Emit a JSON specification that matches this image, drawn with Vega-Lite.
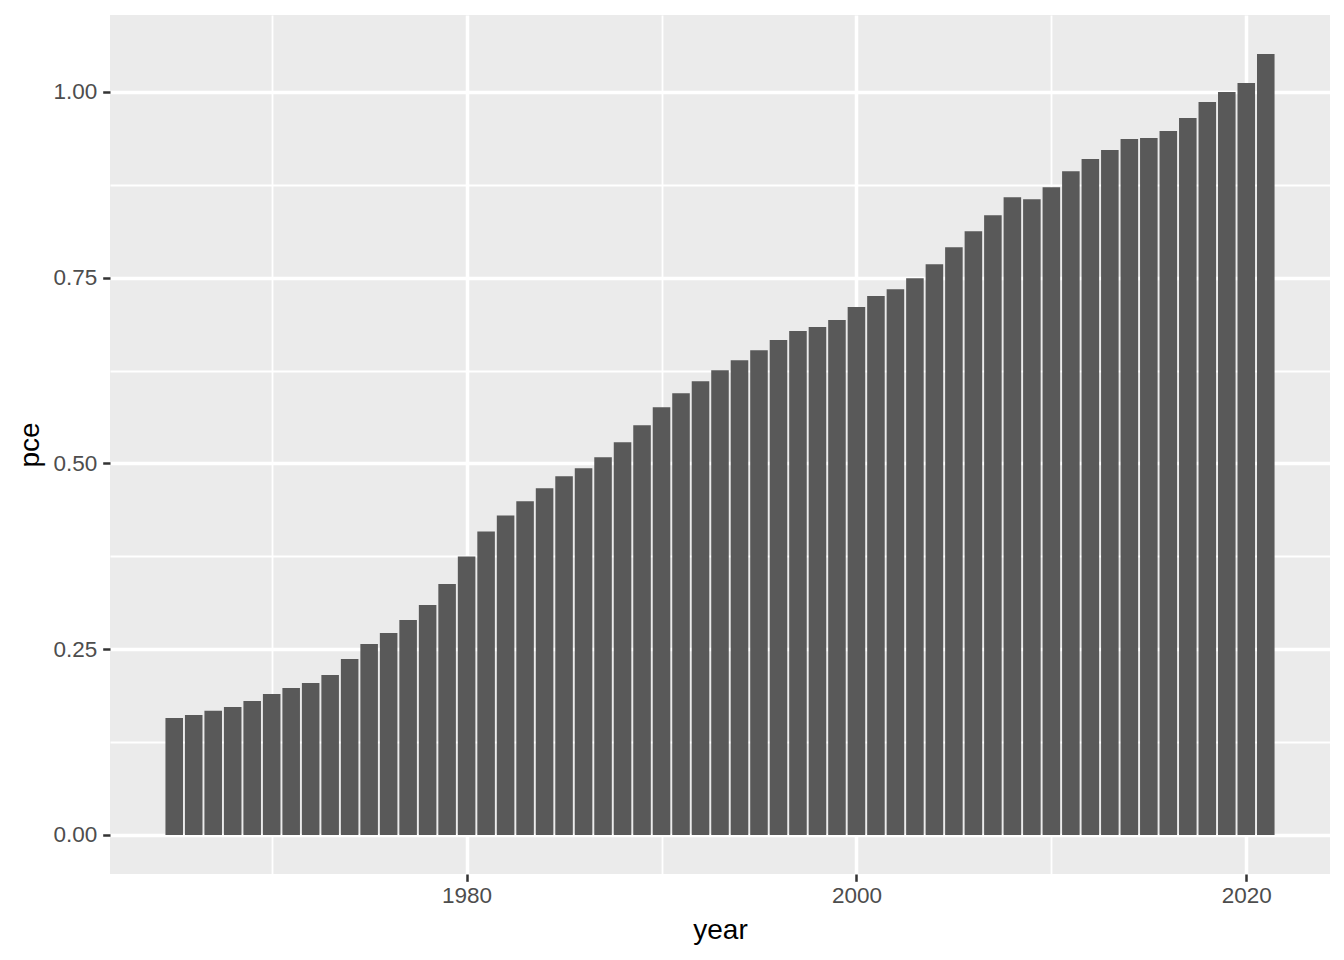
{
  "$schema": "https://vega.github.io/schema/vega-lite/v6.json",
  "width": 1220,
  "height": 859,
  "autosize": {"type": "none"},
  "padding": {"left": 110, "top": 15, "right": 14, "bottom": 86},
  "background": "white",
  "config": {
    "view": {"fill": "#EBEBEB", "stroke": null},
    "axis": {
      "domain": false,
      "gridColor": "#FFFFFF",
      "gridWidth": 3.5,
      "tickColor": "#333333",
      "tickWidth": 2.5,
      "tickSize": 7.3,
      "labelFont": "Liberation Sans",
      "labelFontSize": 22.5,
      "labelColor": "#4D4D4D",
      "titleFont": "Liberation Sans",
      "titleFontSize": 28,
      "titleFontWeight": "normal",
      "titleColor": "#000000"
    }
  },
  "data": {
    "values": [
      {"year": 1965, "pce": 0.1575}, {"year": 1966, "pce": 0.1615}, {"year": 1967, "pce": 0.167},
      {"year": 1968, "pce": 0.1723}, {"year": 1969, "pce": 0.1803}, {"year": 1970, "pce": 0.1898},
      {"year": 1971, "pce": 0.1978}, {"year": 1972, "pce": 0.2046}, {"year": 1973, "pce": 0.2153},
      {"year": 1974, "pce": 0.2369}, {"year": 1975, "pce": 0.2571}, {"year": 1976, "pce": 0.2719},
      {"year": 1977, "pce": 0.2894}, {"year": 1978, "pce": 0.3096}, {"year": 1979, "pce": 0.3378},
      {"year": 1980, "pce": 0.3748}, {"year": 1981, "pce": 0.4085}, {"year": 1982, "pce": 0.430},
      {"year": 1983, "pce": 0.449}, {"year": 1984, "pce": 0.4665}, {"year": 1985, "pce": 0.4827},
      {"year": 1986, "pce": 0.4935}, {"year": 1987, "pce": 0.5083}, {"year": 1988, "pce": 0.5285},
      {"year": 1989, "pce": 0.5514}, {"year": 1990, "pce": 0.5756}, {"year": 1991, "pce": 0.5945},
      {"year": 1992, "pce": 0.6107}, {"year": 1993, "pce": 0.6255}, {"year": 1994, "pce": 0.639},
      {"year": 1995, "pce": 0.6525}, {"year": 1996, "pce": 0.666}, {"year": 1997, "pce": 0.6781},
      {"year": 1998, "pce": 0.6835}, {"year": 1999, "pce": 0.693}, {"year": 2000, "pce": 0.7105},
      {"year": 2001, "pce": 0.7253}, {"year": 2002, "pce": 0.7344}, {"year": 2003, "pce": 0.7492},
      {"year": 2004, "pce": 0.768}, {"year": 2005, "pce": 0.791}, {"year": 2006, "pce": 0.8125},
      {"year": 2007, "pce": 0.834}, {"year": 2008, "pce": 0.8583}, {"year": 2009, "pce": 0.8556},
      {"year": 2010, "pce": 0.8718}, {"year": 2011, "pce": 0.8934}, {"year": 2012, "pce": 0.9096},
      {"year": 2013, "pce": 0.9217}, {"year": 2014, "pce": 0.9365}, {"year": 2015, "pce": 0.9379},
      {"year": 2016, "pce": 0.9473}, {"year": 2017, "pce": 0.9648}, {"year": 2018, "pce": 0.9864},
      {"year": 2019, "pce": 0.9998}, {"year": 2020, "pce": 1.0119}, {"year": 2021, "pce": 1.051}
    ]
  },
  "layer": [
    {
      "mark": {"type": "bar", "opacity": 0, "width": 17.55},
      "encoding": {
        "x": {
          "field": "year", "type": "quantitative",
          "scale": {"domain": [1961.705, 2024.295], "nice": false, "zero": false, "padding": 0},
          "axis": {"orient": "bottom", "values": [1970, 1990, 2010], "grid": true, "gridWidth": 1.8, "labels": false, "ticks": false, "title": null}
        },
        "y": {
          "field": "pce", "type": "quantitative",
          "scale": {"domain": [-0.05255, 1.10355], "nice": false, "zero": false, "padding": 0},
          "axis": {"orient": "left", "values": [0.125, 0.375, 0.625, 0.875], "grid": true, "gridWidth": 1.8, "labels": false, "ticks": false, "title": null}
        },
        "y2": {"datum": 0}
      }
    },
    {
      "mark": {"type": "bar", "color": "#595959", "width": 17.55},
      "encoding": {
        "x": {
          "field": "year", "type": "quantitative",
          "scale": {"domain": [1961.705, 2024.295], "nice": false, "zero": false, "padding": 0},
          "axis": {"orient": "bottom", "values": [1980, 2000, 2020], "grid": true, "format": "d", "title": "year", "labelPadding": 3, "titlePadding": 10}
        },
        "y": {
          "field": "pce", "type": "quantitative",
          "scale": {"domain": [-0.05255, 1.10355], "nice": false, "zero": false, "padding": 0},
          "axis": {"orient": "left", "values": [0, 0.25, 0.5, 0.75, 1], "grid": true, "format": ".2f", "title": "pce", "labelPadding": 6, "titlePadding": 8}
        },
        "y2": {"datum": 0}
      }
    }
  ],
  "resolve": {"axis": {"x": "independent", "y": "independent"}}
}
